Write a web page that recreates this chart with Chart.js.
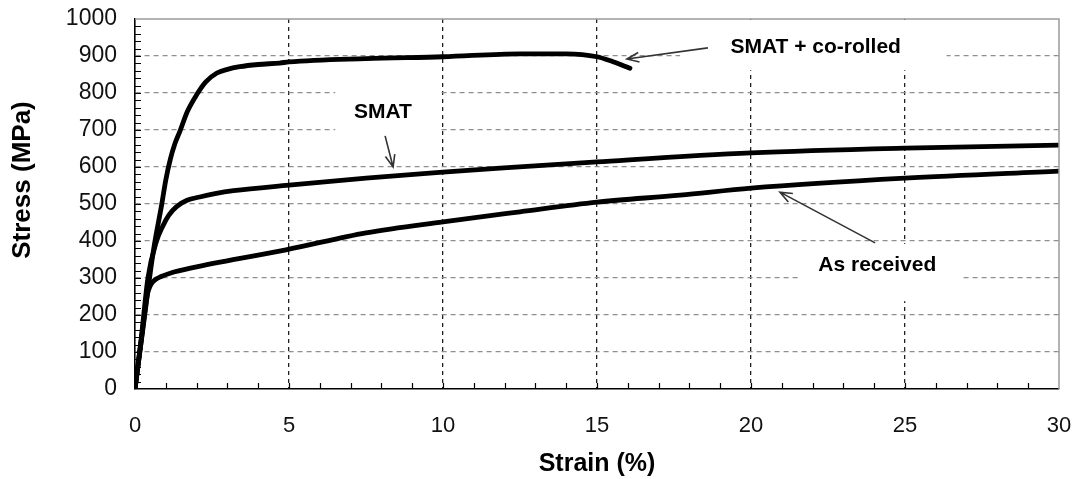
<!DOCTYPE html>
<html>
<head>
<meta charset="utf-8">
<script src="https://cdn.jsdelivr.net/npm/chart.js@4.4.1/dist/chart.umd.min.js"></script>
<style>
  html, body { margin: 0; padding: 0; background: #fff; }
  #wrap { width: 1084px; height: 479px; position: relative; }
</style>
</head>
<body>
<div id="wrap"><canvas id="c" width="1084" height="479"></canvas></div>
<script>
// ---- Data ----
const corolledStrain = [0, 0.3, 0.6, 0.87, 1.0, 1.15, 1.3, 1.46, 1.7, 2.0, 2.3, 2.66, 3.0, 3.4, 4.0, 4.7, 5.0, 7.5, 10, 12.5, 14, 15, 15.5, 16.07];
const corolledStress = [0, 190, 375, 500, 565, 622, 664, 697, 750, 795, 830, 854, 864, 871, 877, 881, 884, 893, 898, 906, 906, 898, 885, 867];

const smatStrain = [0, 0.2, 0.42, 0.7, 0.9, 1.1, 1.35, 1.69, 2.1, 2.6, 3.2, 5, 7.5, 10, 11.85, 15, 20, 25, 30];
const smatStress = [0, 135, 300, 400, 440, 470, 493, 510, 519, 528, 536, 551, 570, 586, 597, 614, 638, 651, 659];

const asRecStrain = [0, 0.2, 0.4, 0.5, 0.65, 0.85, 1.14, 2.0, 2.76, 4.9, 7.5, 10, 12.5, 15, 17.7, 20, 25, 30];
const asRecStress = [0, 130, 255, 280, 295, 304, 313, 330, 343, 376, 422, 452, 479, 505, 524, 543, 570, 589];

const xTickValues = [0, 5, 10, 15, 20, 25, 30];
const yTickValues = [0, 100, 200, 300, 400, 500, 600, 700, 800, 900, 1000];

const xTitle = 'Strain (%)';
const yTitle = 'Stress (MPa)';

// annotation labels: text, label centre (strain, stress), arrow tail, arrow tip
const labelTexts = ['SMAT + co-rolled', 'SMAT', 'As received'];
const labelAt = [[22.1, 924], [8.05, 749], [24.1, 335]];
const arrowFrom = [[18.6, 922], [8.12, 684], [24.03, 395]];
const arrowTo = [[15.97, 892], [8.38, 600], [20.94, 532]];
// white label backgrounds (strain/stress corners)
const boxFrom = [[17.7, 1000], [6.5, 820], [21.6, 395]];
const boxTo = [[26.35, 864], [9.9, 670], [26.8, 240]];

function pts(xs, ys) { return xs.map((x, i) => ({ x: x, y: ys[i] })); }

const FONT = "'Liberation Sans', Arial, sans-serif";

const lineStyle = {
  showLine: true, pointRadius: 0, borderColor: '#000', backgroundColor: '#000',
  borderWidth: 4.8, cubicInterpolationMode: 'monotone', borderCapStyle: 'round',
  borderJoinStyle: 'round', fill: false
};

const decorPlugin = {
  id: 'decor',
  beforeDatasetsDraw(chart) {
    const ctx = chart.ctx, xs = chart.scales.x, ys = chart.scales.y;
    ctx.save();
    ctx.fillStyle = '#fff';
    for (let i = 0; i < boxFrom.length; i++) {
      const x1 = xs.getPixelForValue(boxFrom[i][0]), y1 = ys.getPixelForValue(boxFrom[i][1]);
      const x2 = xs.getPixelForValue(boxTo[i][0]), y2 = ys.getPixelForValue(boxTo[i][1]);
      ctx.fillRect(x1, y1 + 1, x2 - x1, y2 - y1);
    }
    ctx.restore();
  },
  afterDatasetsDraw(chart) {
    const ctx = chart.ctx, xs = chart.scales.x, ys = chart.scales.y;
    const a = chart.chartArea;
    ctx.save();
    // top & right frame (gray)
    ctx.strokeStyle = '#9a9a9a';
    ctx.lineWidth = 1.5;
    ctx.beginPath();
    ctx.moveTo(a.left, a.top); ctx.lineTo(a.right, a.top); ctx.lineTo(a.right, a.bottom);
    ctx.stroke();
    // minor & major ticks (inward)
    ctx.strokeStyle = '#000';
    ctx.lineWidth = 1.2;
    ctx.beginPath();
    for (let v = 20; v < 1000; v += 20) {
      const y = Math.round(ys.getPixelForValue(v)) + 0.5;
      ctx.moveTo(a.left, y); ctx.lineTo(a.left + 6, y);
    }
    for (let v = 1; v < 30; v += 1) {
      const x = Math.round(xs.getPixelForValue(v)) + 0.5;
      ctx.moveTo(x, a.bottom); ctx.lineTo(x, a.bottom - 6);
    }
    ctx.stroke();
    // arrows
    ctx.strokeStyle = '#333';
    ctx.lineWidth = 1.6;
    for (let i = 0; i < arrowFrom.length; i++) {
      const x1 = xs.getPixelForValue(arrowFrom[i][0]), y1 = ys.getPixelForValue(arrowFrom[i][1]);
      const x2 = xs.getPixelForValue(arrowTo[i][0]), y2 = ys.getPixelForValue(arrowTo[i][1]);
      const ang = Math.atan2(y2 - y1, x2 - x1);
      const L = 13, w = 0.38;
      ctx.beginPath();
      ctx.moveTo(x1, y1); ctx.lineTo(x2, y2);
      ctx.moveTo(x2 - L * Math.cos(ang - w), y2 - L * Math.sin(ang - w));
      ctx.lineTo(x2, y2);
      ctx.lineTo(x2 - L * Math.cos(ang + w), y2 - L * Math.sin(ang + w));
      ctx.stroke();
    }
    // labels
    ctx.fillStyle = '#000';
    ctx.font = 'bold 21px ' + FONT;
    ctx.textAlign = 'center';
    ctx.textBaseline = 'middle';
    for (let i = 0; i < labelTexts.length; i++) {
      ctx.fillText(labelTexts[i], xs.getPixelForValue(labelAt[i][0]), ys.getPixelForValue(labelAt[i][1]));
    }
    // y axis title
    ctx.save();
    ctx.translate(23, 180);
    ctx.rotate(-Math.PI / 2);
    ctx.font = 'bold 26px ' + FONT;
    ctx.textAlign = 'center';
    ctx.textBaseline = 'middle';
    ctx.fillText(yTitle, 0, 0);
    ctx.restore();
    ctx.restore();
  }
};

new Chart(document.getElementById('c'), {
  type: 'scatter',
  data: {
    datasets: [
      Object.assign({ label: 'SMAT + co-rolled', data: pts(corolledStrain, corolledStress) }, lineStyle),
      Object.assign({ label: 'SMAT', data: pts(smatStrain, smatStress) }, lineStyle),
      Object.assign({ label: 'As received', data: pts(asRecStrain, asRecStress) }, lineStyle)
    ]
  },
  options: {
    responsive: false,
    animation: false,
    devicePixelRatio: 1,
    layout: { padding: { top: 19, right: 25, left: 0, bottom: 0 } },
    plugins: { legend: { display: false }, tooltip: { enabled: false } },
    scales: {
      x: {
        type: 'linear', min: 0, max: 30,
        afterBuildTicks(s) { s.ticks = xTickValues.map(v => ({ value: v })); },
        afterFit(s) { s.height = 90; s.paddingLeft = 0; s.paddingRight = 0; },
        ticks: { padding: 24, color: '#111', font: { family: FONT, size: 22 }, maxRotation: 0, callback: v => String(v) },
        grid: {
          drawTicks: false,
          color: c => (c.tick && (c.tick.value === 0 || c.tick.value === 30)) ? 'rgba(0,0,0,0)' : '#222',
          lineWidth: 1.3
        },
        border: { display: true, color: '#000', width: 1.6, dash: [4, 4] },
        title: { display: true, text: xTitle, color: '#000', font: { family: FONT, size: 25, weight: 'bold' }, padding: { top: 0, bottom: 0 } }
      },
      y: {
        type: 'linear', min: 0, max: 1000,
        afterBuildTicks(s) { s.ticks = yTickValues.map(v => ({ value: v })); },
        afterFit(s) { s.width = 135; s.paddingTop = 0; s.paddingBottom = 0; },
        ticks: { padding: 18, color: '#111', font: { family: FONT, size: 23 }, callback: v => String(v) },
        grid: {
          drawTicks: false,
          color: c => (c.tick && (c.tick.value === 0 || c.tick.value === 1000)) ? 'rgba(0,0,0,0)' : '#8f8f8f',
          lineWidth: 1.2
        },
        border: { display: true, color: '#000', width: 1.6, dash: [5, 4] },
        title: { display: false, text: yTitle }
      }
    }
  },
  plugins: [decorPlugin]
});
</script>
</body>
</html>
